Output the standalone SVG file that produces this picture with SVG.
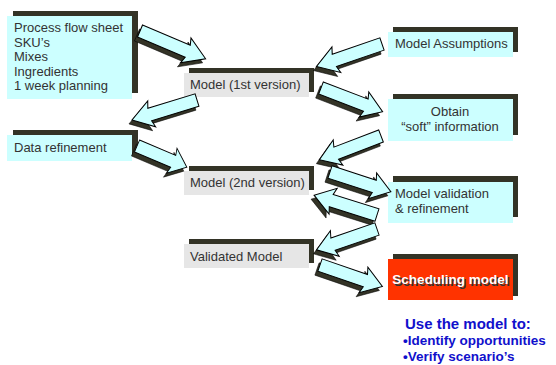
<svg xmlns="http://www.w3.org/2000/svg" xmlns:xlink="http://www.w3.org/1999/xlink" width="556" height="365" viewBox="0 0 556 365">
<style>
.sh{fill:#333326}
.cy{fill:#ccffff}
.gr{fill:#e6e6e6}
.rd{fill:#ff3300}
.t{font-family:"Liberation Sans",Arial,sans-serif;font-size:13px;fill:#333333}
.ab{fill:#ccffff;stroke:#000;stroke-width:1}
.as{fill:#333326;stroke:#000;stroke-width:0.5}
.w{font-family:"Liberation Sans",Arial,sans-serif;font-size:13.5px;font-weight:bold;fill:#fff}
.ws{font-family:"Liberation Sans",Arial,sans-serif;font-size:13.5px;font-weight:bold;fill:#333}
.b{font-family:"Liberation Sans",Arial,sans-serif;font-weight:bold;fill:#1010cc}
</style>
<defs>
<path id="arr" d="M0,-6.5 L48,-6.5 L46,-13.5 L66,0 L46,13.5 L48,6.5 L0,6.5 Z"/>
</defs>
<rect width="556" height="365" fill="#fff"/>

<g id="node-inputs">
<rect class="sh" x="13" y="11" width="125" height="82"/>
<rect class="cy" x="7" y="16" width="125" height="83"/>
<text class="t" x="14" y="32">Process flow sheet</text>
<text class="t" x="14" y="46.5">SKU’s</text>
<text class="t" x="14" y="61">Mixes</text>
<text class="t" x="14" y="75.5">Ingredients</text>
<text class="t" x="14" y="90">1 week planning</text>
</g>
<g id="node-model1">
<rect class="sh" x="189" y="68" width="125" height="24"/>
<rect class="gr" x="184" y="73" width="125" height="24"/>
<text class="t" x="190" y="89">Model (1st version)</text>
</g>
<g id="node-assumptions">
<rect class="sh" x="393" y="27" width="125" height="25"/>
<rect class="cy" x="388" y="32" width="125" height="25"/>
<text class="t" x="395" y="48">Model Assumptions</text>
</g>
<g id="node-soft">
<rect class="sh" x="393" y="94" width="125" height="41"/>
<rect class="cy" x="388" y="99" width="125" height="42"/>
<text class="t" x="450" y="116" text-anchor="middle">Obtain</text>
<text class="t" x="450" y="131" text-anchor="middle">“soft” information</text>
</g>
<g id="node-data">
<rect class="sh" x="13" y="130" width="125" height="26"/>
<rect class="cy" x="7" y="135" width="125" height="26"/>
<text class="t" x="14" y="152">Data refinement</text>
</g>
<g id="node-model2">
<rect class="sh" x="189" y="166" width="125" height="24"/>
<rect class="gr" x="184" y="171" width="125" height="24"/>
<text class="t" x="190" y="187">Model (2nd version)</text>
</g>
<g id="node-validation">
<rect class="sh" x="393" y="176" width="125" height="41"/>
<rect class="cy" x="388" y="182" width="125" height="41"/>
<text class="t" x="395" y="198">Model validation</text>
<text class="t" x="395" y="213">&amp; refinement</text>
</g>
<g id="node-validated">
<rect class="sh" x="189" y="239" width="125" height="24"/>
<rect class="gr" x="184" y="244" width="125" height="24"/>
<text class="t" x="190" y="261">Validated Model</text>
</g>
<g id="node-scheduling">
<rect class="sh" x="393" y="254" width="125" height="42"/>
<rect class="rd" x="388" y="259" width="125" height="41"/>
<text class="ws" x="452" y="285.5" text-anchor="middle">Scheduling model</text>
<text class="w" x="450.5" y="284" text-anchor="middle">Scheduling model</text>
</g>

<g id="connectors">
<use xlink:href="#arr" class="as" transform="translate(-3,4) translate(140,31) rotate(23) scale(1.08,1)"/>
<use xlink:href="#arr" class="ab" transform="translate(140,31) rotate(23) scale(1.08,1)"/>
<use xlink:href="#arr" class="as" transform="translate(-3,4) translate(382,44) rotate(161) scale(1.05,1)"/>
<use xlink:href="#arr" class="ab" transform="translate(382,44) rotate(161) scale(1.05,1)"/>
<use xlink:href="#arr" class="as" transform="translate(-3,4) translate(197,100) rotate(163) scale(1.03,1)"/>
<use xlink:href="#arr" class="ab" transform="translate(197,100) rotate(163) scale(1.03,1)"/>
<use xlink:href="#arr" class="as" transform="translate(-3,4) translate(321,88) rotate(21)"/>
<use xlink:href="#arr" class="ab" transform="translate(321,88) rotate(21)"/>
<use xlink:href="#arr" class="as" transform="translate(-3,4) translate(137,146) rotate(23) scale(0.82,1)"/>
<use xlink:href="#arr" class="ab" transform="translate(137,146) rotate(23) scale(0.82,1)"/>
<use xlink:href="#arr" class="as" transform="translate(-3,4) translate(381,136) rotate(159)"/>
<use xlink:href="#arr" class="ab" transform="translate(381,136) rotate(159)"/>
<use xlink:href="#arr" class="as" transform="translate(-3,4) translate(377,215) rotate(197.5)"/>
<use xlink:href="#arr" class="ab" transform="translate(377,215) rotate(197.5)"/>
<use xlink:href="#arr" class="as" transform="translate(-3,4) translate(330,172) rotate(18) scale(0.97,1)"/>
<use xlink:href="#arr" class="ab" transform="translate(330,172) rotate(18) scale(0.97,1)"/>
<use xlink:href="#arr" class="as" transform="translate(-3,4) translate(377,229) rotate(161) scale(0.97,1)"/>
<use xlink:href="#arr" class="ab" transform="translate(377,229) rotate(161) scale(0.97,1)"/>
<use xlink:href="#arr" class="as" transform="translate(-3,4) translate(320,265) rotate(19)"/>
<use xlink:href="#arr" class="ab" transform="translate(320,265) rotate(19)"/>
</g>

<g id="note">
<text class="b" x="405" y="329" font-size="15px">Use the model to:</text>
<text class="b" x="403" y="345" font-size="13.5px">•Identify opportunities</text>
<text class="b" x="403" y="361" font-size="13.5px">•Verify scenario’s</text>
</g>
</svg>
